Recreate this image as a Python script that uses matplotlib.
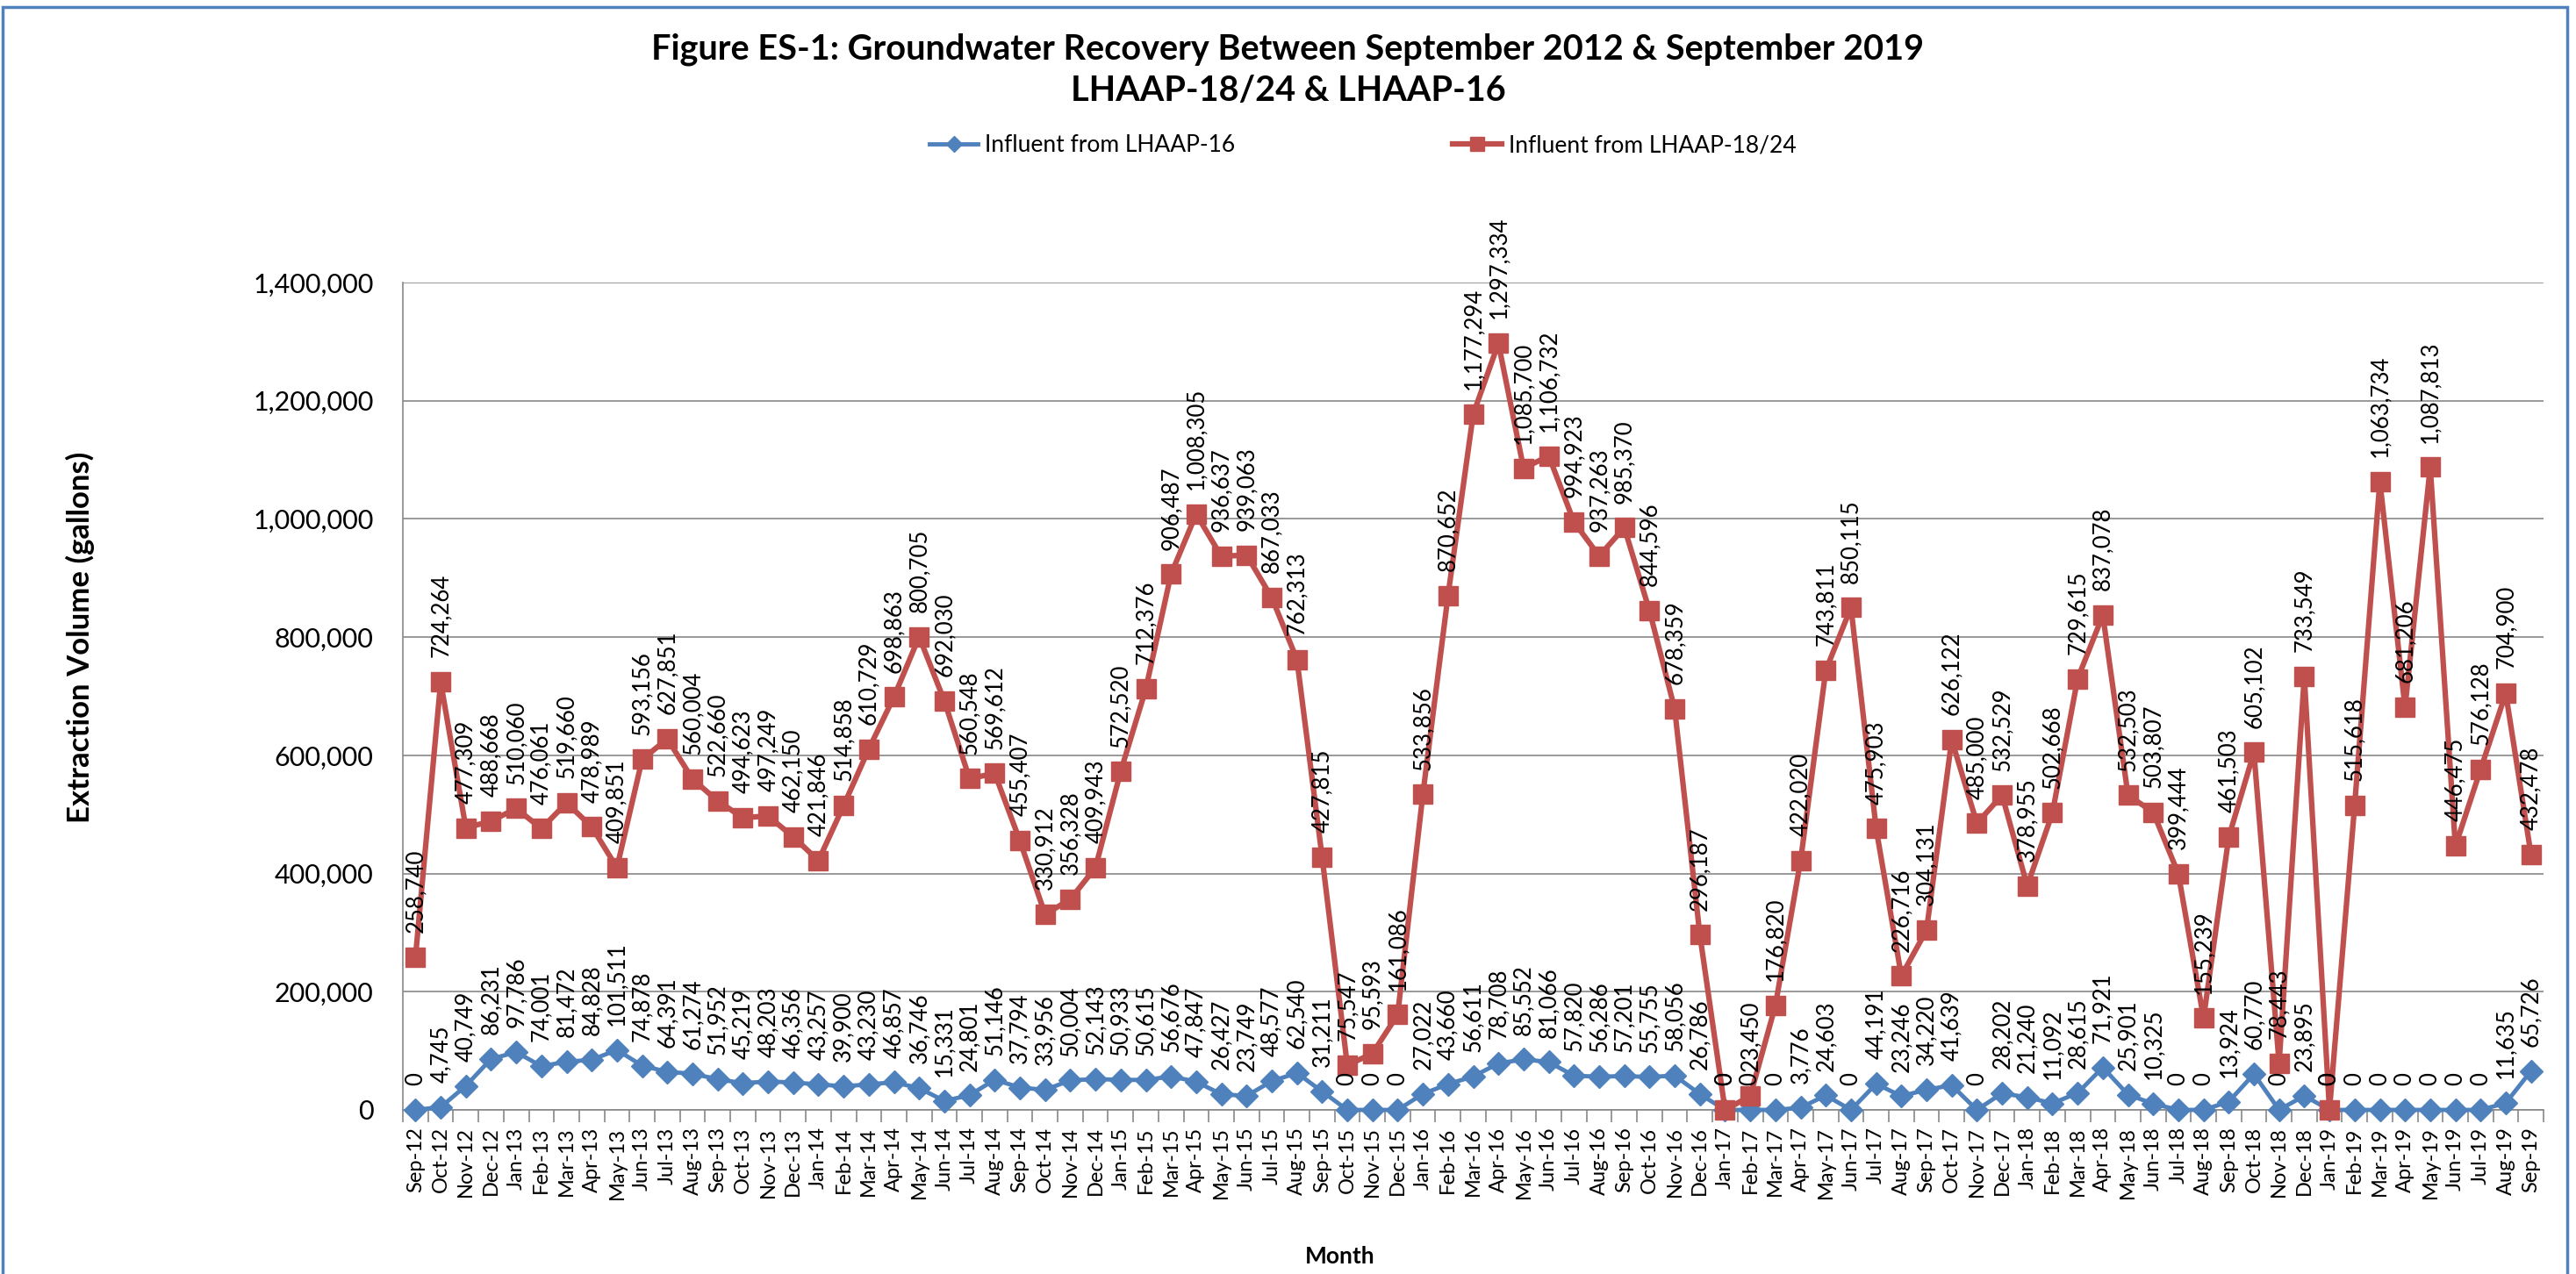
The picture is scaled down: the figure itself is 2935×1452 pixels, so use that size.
import matplotlib.pyplot as plt
import numpy as np
import pandas as pd
from matplotlib.patches import Rectangle
from matplotlib.ticker import FuncFormatter

# monthly categories Sep-12 .. Sep-19
months = list(pd.date_range('2012-09-01', periods=85, freq='MS').strftime('%b-%y'))

# gallons per month, LHAAP-16 influent
lhaap16 = [
    0, 4745, 40749, 86231,
    97786, 74001, 81472, 84828, 101511, 74878, 64391, 61274, 51952, 45219, 48203, 46356,
    43257, 39900, 43230, 46857, 36746, 15331, 24801, 51146, 37794, 33956, 50004, 52143,
    50933, 50615, 56676, 47847, 26427, 23749, 48577, 62540, 31211, 0, 0, 0,
    27022, 43660, 56611, 78708, 85552, 81066, 57820, 56286, 57201, 55755, 58056, 26786,
    0, 0, 0, 3776, 24603, 0, 44191, 23246, 34220, 41639, 0, 28202,
    21240, 11092, 28615, 71921, 25901, 10325, 0, 0, 13924, 60770, 0, 23895,
    0, 0, 0, 0, 0, 0, 0, 11635, 65726,
]

# gallons per month, LHAAP-18/24 influent
lhaap1824 = [
    258740, 724264, 477309, 488668,
    510060, 476061, 519660, 478989, 409851, 593156, 627851, 560004, 522660, 494623, 497249, 462150,
    421846, 514858, 610729, 698863, 800705, 692030, 560548, 569612, 455407, 330912, 356328, 409943,
    572520, 712376, 906487, 1008305, 936637, 939063, 867033, 762313, 427815, 75547, 95593, 161086,
    533856, 870652, 1177294, 1297334, 1085700, 1106732, 994923, 937263, 985370, 844596, 678359, 296187,
    0, 23450, 176820, 422020, 743811, 850115, 475903, 226716, 304131, 626122, 485000, 532529,
    378955, 502668, 729615, 837078, 532503, 503807, 399444, 155239, 461503, 605102, 78443, 733549,
    0, 515618, 1063734, 681206, 1087813, 446475, 576128, 704900, 432478,
]

BLUE = '#4F81BD'
RED = '#C0504D'
GRID = '#878787'
FONT = 'Lato'

fig = plt.figure(figsize=(29.35, 14.52), dpi=100)
ax = fig.add_axes([0.1564, 0.1288, 0.8310, 0.6494])

x = np.arange(len(months))
ax.plot(x, lhaap16, color=BLUE, lw=3.5, marker='D', ms=13, clip_on=False,
        zorder=3, label='Influent from LHAAP-16')
ax.plot(x, lhaap1824, color=RED, lw=4.5, marker='s', ms=16, clip_on=False,
        zorder=4, label='Influent from LHAAP-18/24')

# value labels, rotated, sitting just above each point
for series in (lhaap16, lhaap1824):
    for i, v in enumerate(series):
        ax.annotate(f'{v:,}', (i, v), xytext=(0, 20), textcoords='offset points',
                    rotation=90, ha='center', va='bottom', fontsize=18.5,
                    family=FONT, zorder=5)

ax.set_xlim(-0.5, len(months) - 0.5)
ax.set_ylim(0, 1400000)
ax.set_yticks(np.arange(0, 1400001, 200000))
ax.yaxis.set_major_formatter(FuncFormatter(lambda v, p: f'{int(v):,}'))
ax.yaxis.grid(True, color=GRID, lw=1.2)
ax.set_axisbelow(True)

ax.set_xticks(x)
ax.set_xticklabels(months, rotation=90, fontsize=17, family=FONT)
ax.set_xticks(np.arange(-0.5, len(months), 1), minor=True)
ax.tick_params(axis='x', which='major', length=0, pad=14)
ax.tick_params(axis='x', which='minor', length=10, color=GRID, width=1.2)
ax.tick_params(axis='y', length=0, pad=24, labelsize=22)
for lab in ax.get_yticklabels():
    lab.set_family(FONT)

for s in ('top', 'right'):
    ax.spines[s].set_visible(False)
for s in ('left', 'bottom'):
    ax.spines[s].set_color(GRID)
    ax.spines[s].set_linewidth(1.2)

fig.text(0.5, 0.961, 'Figure ES-1: Groundwater Recovery Between September 2012 & September 2019',
         ha='center', va='center', fontsize=28.5, fontweight='bold', family=FONT)
fig.text(0.5, 0.929, 'LHAAP-18/24 & LHAAP-16',
         ha='center', va='center', fontsize=28.5, fontweight='bold', family=FONT)

fig.text(0.031, 0.50, 'Extraction Volume (gallons)', rotation=90, ha='center', va='center',
         fontsize=25, fontweight='bold', family=FONT)
fig.text(0.520, 0.014, 'Month', ha='center', va='center',
         fontsize=19, fontweight='bold', family=FONT)

fig.legend(loc='center', bbox_to_anchor=(0.529, 0.886), ncol=2, frameon=False,
           prop={'family': FONT, 'size': 19}, handlelength=2.1, columnspacing=9.4,
           handletextpad=0.3, markerscale=0.7)

# outer chart border
fig.patches.append(Rectangle((0.001, -0.02), 0.9956, 1.0145, transform=fig.transFigure,
                             fill=False, edgecolor=BLUE, lw=2.5))

fig.savefig('out.png', dpi=100)
